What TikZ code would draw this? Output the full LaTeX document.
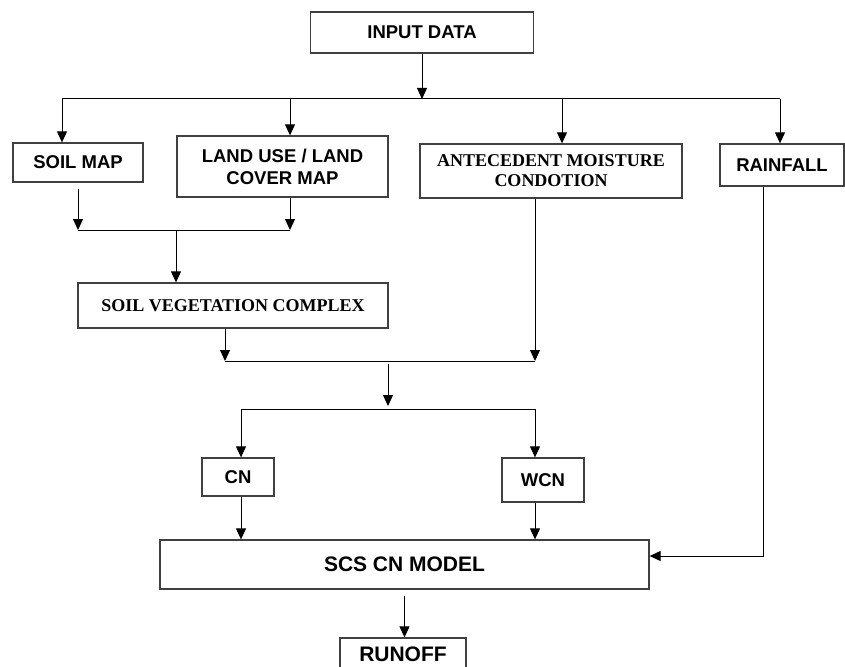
\documentclass[tikz,border=0pt]{standalone}
\usepackage{fontspec}
\setmainfont{Liberation Sans}
\newfontfamily\timesbf{Liberation Serif}
\usetikzlibrary{arrows.meta}

\begin{document}
\begin{tikzpicture}[x=1pt, y=-1pt,
    box/.style = {draw=black!75, line width=1.3pt, rectangle, inner sep=0pt, align=center,
                  font=\fontsize{18.5}{22}\selectfont\bfseries},
    serifbox/.style = {box, font=\timesbf\fontsize{18}{20}\selectfont\bfseries},
    bigbox/.style = {box, font=\fontsize{21}{24}\selectfont\bfseries},
    arr/.style = {-{Triangle[width=10pt,length=11pt]}, line width=1pt},
    bus/.style = {line width=1pt}]
\useasboundingbox (0,0) rectangle (845,666);

\node[box, minimum width=223pt, minimum height=41pt] (input)  at (422,32.5)  {INPUT DATA};
\node[box, minimum width=130pt, minimum height=39pt] (soil)   at (78,162.5)  {SOIL MAP};
\node[box, minimum width=211pt, minimum height=61pt] (landuse) at (282.5,166.5) {LAND USE / LAND\\COVER MAP};
\node[serifbox, minimum width=262pt, minimum height=54pt] (amc) at (551,171) {ANTECEDENT MOISTURE\\CONDOTION};
\node[box, minimum width=124pt, minimum height=42pt] (rain)   at (782,165)   {RAINFALL};
\node[serifbox, minimum width=310pt, minimum height=45pt] (svc) at (233,305.5) {SOIL VEGETATION COMPLEX};
\node[box, minimum width=72pt, minimum height=38pt]  (cn)     at (238,477)   {CN};
\node[box, minimum width=82pt, minimum height=44pt]  (wcn)    at (543,480)   {WCN};
\node[bigbox, minimum width=489pt, minimum height=49pt] (scs) at (404.5,564.5) {SCS CN MODEL};
\node[bigbox, minimum width=126pt, minimum height=32pt] (runoff) at (403,654) {RUNOFF};

% split of the input data
\coordinate (j1)  at (422,99);
\coordinate (b1l) at (62,99);
\coordinate (b1s) at (290,99);
\coordinate (b1a) at (562,99);
\coordinate (b1r) at (780,99);
\draw[arr] (input) -- (j1);
\draw[bus] (b1l) -- (b1r);
\draw[arr] (b1l) -- (b1l |- soil.north);
\draw[arr] (b1s) -- (b1s |- landuse.north);
\draw[arr] (b1a) -- (b1a |- amc.north);
\draw[arr] (b1r) -- (b1r |- rain.north);

% soil + land use
\coordinate (j2l) at (78,230);
\coordinate (j2r) at (290,230);
\coordinate (j2m) at (176,230);
\draw[arr, shorten <=6pt] (soil.south) -- (j2l);
\draw[arr] (j2r |- landuse.south) -- (j2r);
\draw[bus] (j2l) -- (j2r);
\draw[arr] (j2m) -- (j2m |- svc.north);

% complex + moisture condition
\coordinate (j3l) at (225,361);
\coordinate (j3r) at (535,361);
\coordinate (j3m) at (388,361);
\draw[arr] (j3l |- svc.south) -- (j3l);
\draw[arr] (j3r |- amc.south) -- (j3r);
\draw[bus] (j3l) -- (j3r);

% CN and WCN
\coordinate (j4l) at (241,409);
\coordinate (j4r) at (535,409);
\coordinate (j4m) at (388,409);
\draw[arr, shorten <=3pt, shorten >=3pt] (j3m) -- (j4m);
\draw[bus] (j4l) -- (j4r);
\draw[arr] (j4l) -- (j4l |- cn.north);
\draw[arr] (j4r) -- (j4r |- wcn.north);
\draw[arr] (j4l |- cn.south) -- (j4l |- scs.north);
\draw[arr] (j4r |- wcn.south) -- (j4r |- scs.north);

% rainfall into the model
\coordinate (rc) at (763,556);
\draw[arr] (rc |- rain.south) -- (rc) -- (rc -| scs.east);

\draw[arr, shorten <=6pt] (scs.south) -- (scs.south |- runoff.north);
\end{tikzpicture}
\end{document}
